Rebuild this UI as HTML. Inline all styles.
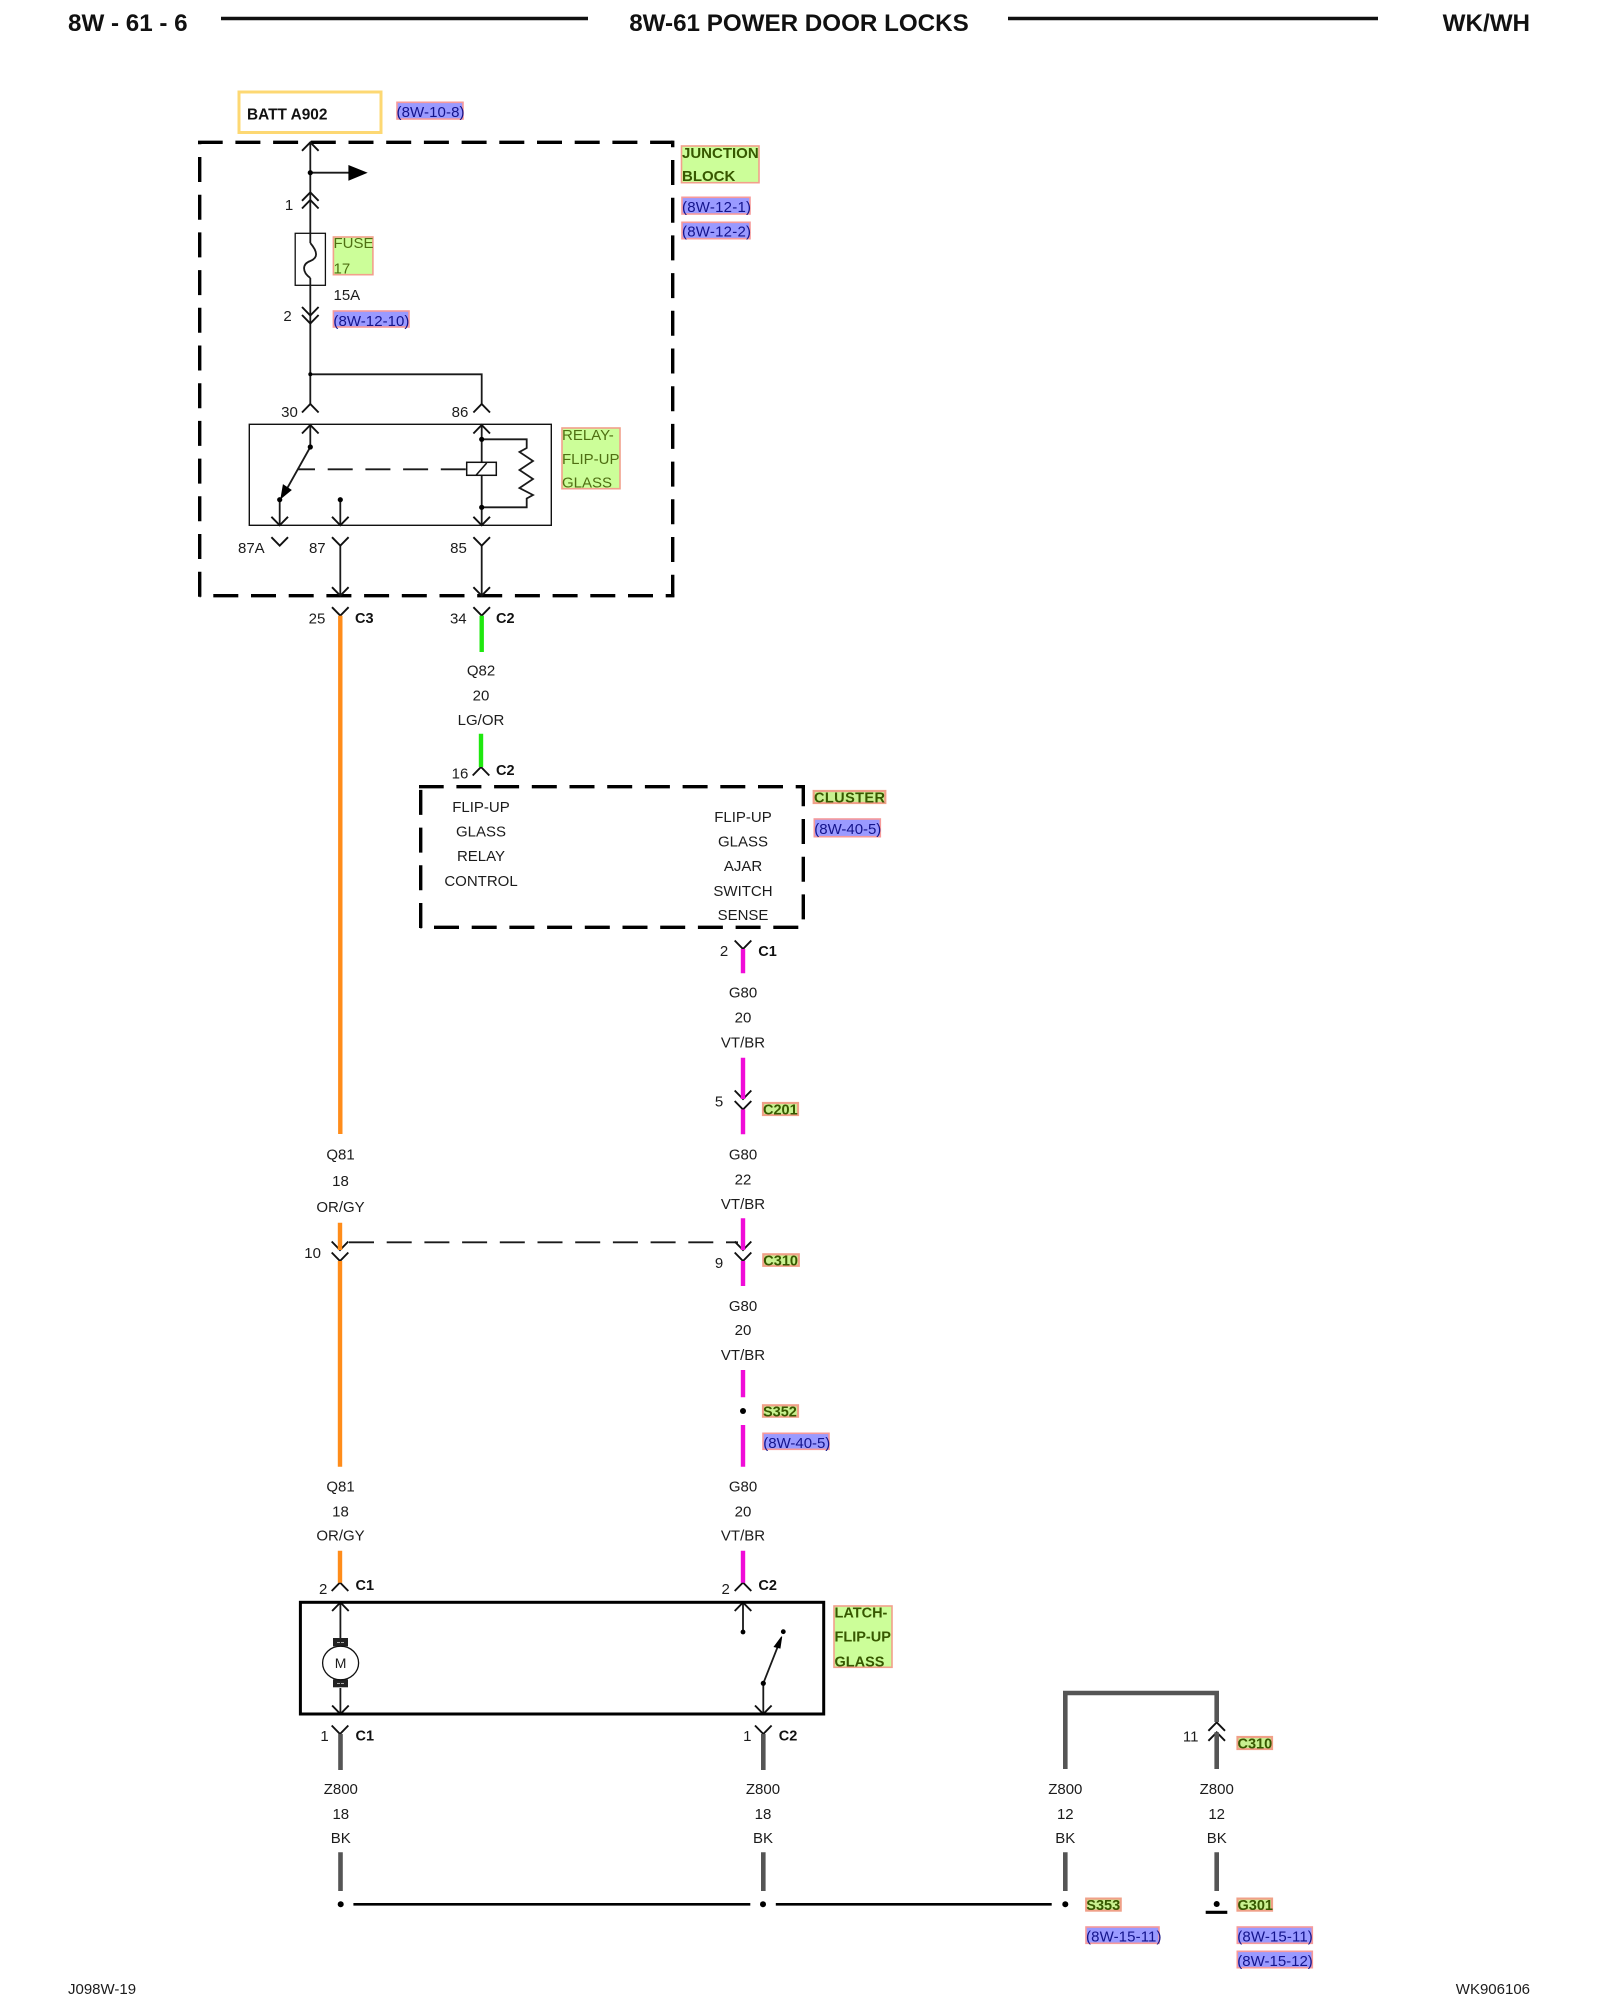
<!DOCTYPE html>
<html><head><meta charset="utf-8"><style>
html,body{margin:0;padding:0;background:#fff;width:1600px;height:2000px;overflow:hidden}
svg{display:block}
text{font-family:"Liberation Sans",sans-serif;font-size:15px;fill:#1c1c1c}
.b{font-weight:bold;font-size:14.5px;fill:#111}
.c{text-anchor:middle}
.h{font-weight:bold;font-size:24.2px;fill:#111}
.g{fill:#ccfe99;stroke:#f2a08c;stroke-width:1.6}
.s{fill:#c8f090;stroke:#f0a088;stroke-width:2.2}
.p{fill:#9a9aff;stroke:#f79a9a;stroke-width:1.6}
.gt{fill:#4f6f12}
.gb{fill:#375800;font-weight:bold;font-size:14.5px}
.pt{fill:#14148c}
</style></head><body>
<svg width="1600" height="2000" viewBox="0 0 1600 2000" xmlns="http://www.w3.org/2000/svg">
<rect width="1600" height="2000" fill="#fff"/>

<!-- header -->
<text class="h" x="68" y="31">8W - 61 - 6</text>
<text class="h c" x="799" y="31">8W-61 POWER DOOR LOCKS</text>
<text class="h" x="1530" y="31" text-anchor="end">WK/WH</text>
<path d="M221 18.5H588M1008 18.5H1378" stroke="#111" stroke-width="3.5" fill="none"/>
<text x="68" y="1994">J098W-19</text>
<text x="1530" y="1994" text-anchor="end">WK906106</text>

<!-- BATT -->
<rect x="239" y="92" width="142" height="40.5" fill="#fff" stroke="#fdd873" stroke-width="3"/>
<text class="b" x="247" y="119.5" style="font-size:15.4px">BATT A902</text>

<!-- dashed boxes -->
<g fill="none" stroke="#000" stroke-width="3.4" stroke-dasharray="25 12.7">
<path d="M199.7 596.7V142.3"/>
<path d="M198 142.3H672.7" stroke-dashoffset="0.3"/>
<path d="M672.7 140.6V596.7" stroke-dashoffset="18.3"/>
<path d="M199.7 595.7H674.4" stroke-dashoffset="24.1"/>
<path d="M420.7 928V786.7"/>
<path d="M419 786.7H803.3" stroke-dashoffset="0.3"/>
<path d="M803.3 785V927.3" stroke-dashoffset="3.7"/>
<path d="M420.7 927.3H803.3" stroke-dashoffset="24.4"/>
</g>

<!-- relay and fuse boxes -->
<rect x="249.3" y="424.3" width="302" height="101" fill="none" stroke="#111" stroke-width="1.4"/>
<rect x="295.2" y="233.3" width="30.2" height="52" fill="none" stroke="#111" stroke-width="1.3"/>

<!-- thin black wiring -->
<g fill="none" stroke="#1a1a1a" stroke-width="1.8">
<path d="M310.3 142.3V233M310.3 172.7H350"/>
<path d="M310.3 243V233.3M310.3 278V285.3M310.3 285.3V404M310.3 374.3H481.7V404"/>
<path d="M310.3 243C318 252 318 258 310.3 261C302 264 302 272 310.3 278"/>
<path d="M310.3 425V447M310.3 447L284 494"/>
<path d="M279.7 499.7V525.3M340.3 499.7V525.3"/>
<path d="M481.7 425V525.3M481.7 439.3H526.7V448L519.5 452L533 461L519.5 470L533 479L519.5 488L533 495L526.7 498.5V507.3H481.7"/>
<path d="M340.3 545.7V595.7M481.7 545.7V595.7"/>
<path d="M298.3 469.3H466.7" stroke-dasharray="25 12.7" stroke-dashoffset="8.3"/>
<!-- dashed mechanical link C310 -->
<path d="M349 1242.3H738" stroke-dasharray="25 12.7"/>
<!-- latch internals -->
<path d="M340.4 1602.3V1639M340.4 1688V1714"/>
<path d="M743 1602.3V1632M763.3 1683.3V1714M763.3 1683.3L778 1646"/>
</g>
<rect x="466.7" y="462.3" width="29.6" height="13" fill="#fff" stroke="#111" stroke-width="1.5"/>
<path d="M476 475.3L486.7 463" stroke="#111" stroke-width="1.5"/>

<!-- chevrons -->
<g fill="none" stroke="#111" stroke-width="1.9">
<path d="M302 150.8L310.3 142.3L318.6 150.8M302 200.8L310.3 192.3L318.6 200.8M302 208.5L310.3 200L318.6 208.5"/>
<path d="M302 307L310.3 315.5L318.6 307M302 315L310.3 323.5L318.6 315"/>
<path d="M302 412.5L310.3 404L318.6 412.5M473.4 412.5L481.7 404L490 412.5M302 433.5L310.3 425L318.6 433.5M473.4 433.5L481.7 425L490 433.5"/>
<path d="M271.4 516.8L279.7 525.3L288 516.8M332 516.8L340.3 525.3L348.6 516.8M473.4 516.8L481.7 525.3L490 516.8"/>
<path d="M271.4 537.2L279.7 545.7L288 537.2M332 537.2L340.3 545.7L348.6 537.2M473.4 537.2L481.7 545.7L490 537.2"/>
<path d="M332 587.2L340.3 595.7L348.6 587.2M473.4 587.2L481.7 595.7L490 587.2"/>
<path d="M332 607.2L340.3 615.7L348.6 607.2M473.4 607.2L481.7 615.7L490 607.2"/>
<path d="M472.7 775.5L481 767L489.3 775.5"/>
<path d="M734.7 940.5L743 949L751.3 940.5"/>
<path d="M734.7 1090.5L743 1099L751.3 1090.5M734.7 1101L743 1109.5L751.3 1101"/>
<path d="M331.7 1241.5L340 1250L348.3 1241.5M331.7 1252.5L340 1261L348.3 1252.5"/>
<path d="M734.7 1241.5L743 1250L751.3 1241.5M734.7 1252.5L743 1261L751.3 1252.5"/>
<path d="M331.7 1591L340 1582.5L348.3 1591M734.7 1591L743 1582.5L751.3 1591"/>
<path d="M332.1 1611L340.4 1602.5L348.7 1611M734.7 1611L743 1602.5L751.3 1611"/>
<path d="M332.1 1705.5L340.4 1714L348.7 1705.5M755 1705.5L763.3 1714L771.6 1705.5"/>
<path d="M331.7 1725.5L340 1734L348.3 1725.5M755 1725.5L763.3 1734L771.6 1725.5"/>
<path d="M1208.4 1730.8L1216.7 1722.3L1225 1730.8M1208.4 1740.8L1216.7 1732.3L1225 1740.8"/>
</g>

<!-- arrowheads -->
<path d="M348.4 165L367.7 172.7L348.4 180.7Z" fill="#000"/>
<path d="M281 498.3L283.3 485L291 490Z" fill="#000" stroke="#000" stroke-width="1"/>
<path d="M781.7 1636.7L774.3 1646.7L780 1648Z" fill="#000" stroke="#000" stroke-width="1"/>

<!-- dots -->
<g fill="#000">
<circle cx="310.3" cy="172.7" r="2.6"/>
<circle cx="310.3" cy="374.3" r="2"/>
<circle cx="310.3" cy="447" r="2.6"/>
<circle cx="279.7" cy="499.7" r="2.6"/>
<circle cx="340.3" cy="499.7" r="2.6"/>
<circle cx="481.7" cy="439.3" r="2.6"/>
<circle cx="481.7" cy="507.3" r="2.6"/>
<circle cx="743" cy="1411" r="3"/>
<circle cx="743" cy="1632" r="2.4"/>
<circle cx="783.3" cy="1631.7" r="2.4"/>
<circle cx="763.3" cy="1683.3" r="2.6"/>
<circle cx="340.7" cy="1904.3" r="3"/>
<circle cx="763" cy="1904.3" r="3"/>
<circle cx="1065.3" cy="1904.3" r="3"/>
<circle cx="1216.7" cy="1904" r="3"/>
</g>

<!-- coloured wires -->
<g fill="none" stroke-width="4.4">
<path d="M340.3 615.7V1134M340 1222.7V1250M340 1261V1466.7M340 1550.7V1582.7" stroke="#ff8c1a"/>
<path d="M481.7 615.7V652M481 733.7V767" stroke="#1fe80f"/>
<path d="M743 949V973.3M743 1057.7V1099M743 1109.5V1134.3M743 1218.3V1250M743 1261V1286M743 1370V1397.3M743 1425V1466.7M743 1550.7V1582.7" stroke="#f00cd8"/>
</g>
<g fill="none" stroke="#555" stroke-width="4.6">
<path d="M340.5 1734V1770M763.3 1734V1770M340.5 1852.3V1891M763.3 1852.3V1891M1065.3 1852.3V1891M1216.7 1852.3V1891"/>
<path d="M1065.3 1769V1693H1216.7V1722M1216.7 1732.3V1769"/>
</g>

<!-- bottom ground line -->
<path d="M353.4 1904.3H750.3M775.8 1904.3H1051.7" stroke="#000" stroke-width="2.6" fill="none"/>
<path d="M1205.7 1912.3H1227.3" stroke="#000" stroke-width="3.2"/>

<!-- latch box -->
<rect x="300.4" y="1602.3" width="523.3" height="111.7" fill="none" stroke="#000" stroke-width="3"/>
<!-- motor -->
<rect x="333" y="1638" width="15" height="8.3" fill="#222"/>
<rect x="333" y="1679.3" width="15" height="8" fill="#222"/>
<path d="M337 1642.5H344M337 1683.5H344" stroke="#aaa" stroke-width="1" stroke-dasharray="3 1"/>
<ellipse cx="340.6" cy="1663" rx="18" ry="16.8" fill="#fff" stroke="#111" stroke-width="1.3"/>
<text class="c" x="340.6" y="1668" style="font-size:14px">M</text>

<!-- pin numbers -->
<text class="c" x="289" y="210">1</text>
<text class="c" x="287.5" y="321">2</text>
<text x="333.5" y="300">15A</text>
<text class="c" x="289.5" y="417">30</text>
<text class="c" x="460" y="417">86</text>
<text x="238" y="553">87A</text>
<text class="c" x="317.3" y="553">87</text>
<text class="c" x="458.5" y="553">85</text>
<text class="c" x="317" y="623.3">25</text>
<text class="c" x="458.3" y="623.3">34</text>
<text class="b" x="355" y="623">C3</text>
<text class="b" x="496" y="623">C2</text>
<text class="c" x="460" y="778.3">16</text>
<text class="b" x="496" y="775">C2</text>
<text class="c" x="724" y="956">2</text>
<text class="b" x="758.3" y="956">C1</text>
<text class="c" x="719" y="1106.7">5</text>
<text class="c" x="312.6" y="1258">10</text>
<text class="c" x="719" y="1268">9</text>
<text class="c" x="323.2" y="1594">2</text>
<text class="b" x="355.5" y="1590">C1</text>
<text class="c" x="725.7" y="1594">2</text>
<text class="b" x="758.4" y="1590">C2</text>
<text class="c" x="324.5" y="1741">1</text>
<text class="b" x="355.5" y="1740.7">C1</text>
<text class="c" x="747.3" y="1741">1</text>
<text class="b" x="778.8" y="1740.7">C2</text>
<text class="c" x="1190.7" y="1741.3">11</text>

<!-- wire labels -->
<text class="c" x="481" y="675.5">Q82</text>
<text class="c" x="481" y="700.5">20</text>
<text class="c" x="481" y="725">LG/OR</text>

<text class="c" x="481" y="812">FLIP-UP</text>
<text class="c" x="481" y="836.7">GLASS</text>
<text class="c" x="481" y="861">RELAY</text>
<text class="c" x="481" y="886">CONTROL</text>
<text class="c" x="743" y="822">FLIP-UP</text>
<text class="c" x="743" y="846.7">GLASS</text>
<text class="c" x="743" y="871">AJAR</text>
<text class="c" x="743" y="896">SWITCH</text>
<text class="c" x="743" y="920">SENSE</text>

<text class="c" x="743" y="997.5">G80</text>
<text class="c" x="743" y="1022.5">20</text>
<text class="c" x="743" y="1047.5">VT/BR</text>
<text class="c" x="743" y="1159.5">G80</text>
<text class="c" x="743" y="1184.5">22</text>
<text class="c" x="743" y="1209">VT/BR</text>
<text class="c" x="340.5" y="1159.5">Q81</text>
<text class="c" x="340.5" y="1186">18</text>
<text class="c" x="340.5" y="1212">OR/GY</text>
<text class="c" x="743" y="1311">G80</text>
<text class="c" x="743" y="1335">20</text>
<text class="c" x="743" y="1360">VT/BR</text>
<text class="c" x="743" y="1491.7">G80</text>
<text class="c" x="743" y="1516.7">20</text>
<text class="c" x="743" y="1540.5">VT/BR</text>
<text class="c" x="340.5" y="1491.7">Q81</text>
<text class="c" x="340.5" y="1516.7">18</text>
<text class="c" x="340.5" y="1540.5">OR/GY</text>
<text class="c" x="340.8" y="1794">Z800</text>
<text class="c" x="340.8" y="1819">18</text>
<text class="c" x="340.8" y="1843">BK</text>
<text class="c" x="763" y="1794">Z800</text>
<text class="c" x="763" y="1819">18</text>
<text class="c" x="763" y="1843">BK</text>
<text class="c" x="1065.3" y="1794">Z800</text>
<text class="c" x="1065.3" y="1819">12</text>
<text class="c" x="1065.3" y="1843">BK</text>
<text class="c" x="1216.7" y="1794">Z800</text>
<text class="c" x="1216.7" y="1819">12</text>
<text class="c" x="1216.7" y="1843">BK</text>

<!-- green tags -->
<rect class="g" x="681.5" y="146" width="77.5" height="36.7"/>
<text class="gb" x="682" y="157.8" style="font-size:15px">JUNCTION</text>
<text class="gb" x="682" y="181.2" style="font-size:15px">BLOCK</text>
<rect class="g" x="333.4" y="237" width="39.5" height="37.7"/>
<text class="gt" x="333.5" y="248">FUSE</text>
<text class="gt" x="333.5" y="273.7">17</text>
<rect class="g" x="562" y="428" width="58" height="60.7"/>
<text class="gt" x="562" y="440">RELAY-</text>
<text class="gt" x="562" y="464">FLIP-UP</text>
<text class="gt" x="562" y="487.7">GLASS</text>
<rect class="s" x="813.7" y="791" width="71.6" height="12"/>
<text class="gb" x="814" y="802.5" textLength="71">CLUSTER</text>
<rect class="s" x="763" y="1103" width="35" height="12"/>
<text class="gb" x="763" y="1114.3">C201</text>
<rect class="s" x="763.3" y="1254.3" width="35.5" height="11.5"/>
<text class="gb" x="763.3" y="1265.5">C310</text>
<rect class="s" x="763" y="1405.3" width="35" height="11.4"/>
<text class="gb" x="763" y="1416.3">S352</text>
<rect class="g" x="834" y="1606" width="58" height="61.3"/>
<text class="gb" x="834.5" y="1617.7">LATCH-</text>
<text class="gb" x="834.5" y="1641.7">FLIP-UP</text>
<text class="gb" x="834.5" y="1666.7">GLASS</text>
<rect class="s" x="1237.5" y="1737" width="34.5" height="12"/>
<text class="gb" x="1237.5" y="1748.3">C310</text>
<rect class="s" x="1086.2" y="1898.6" width="34.5" height="12"/>
<text class="gb" x="1086.3" y="1909.8">S353</text>
<rect class="s" x="1237.5" y="1898.6" width="34.5" height="12"/>
<text class="gb" x="1237.5" y="1909.8">G301</text>

<!-- blue tags -->
<rect class="p" x="397" y="102.3" width="66" height="16.7"/>
<text class="pt" x="396.5" y="117" textLength="68" lengthAdjust="spacing">(8W-10-8)</text>
<rect class="p" x="682" y="197.3" width="68" height="16.7"/>
<text class="pt" x="682" y="212" textLength="69" lengthAdjust="spacing">(8W-12-1)</text>
<rect class="p" x="682" y="222.3" width="68" height="16.4"/>
<text class="pt" x="682" y="236.7" textLength="69" lengthAdjust="spacing">(8W-12-2)</text>
<rect class="p" x="333.4" y="311" width="75.6" height="16"/>
<text class="pt" x="333.4" y="326" textLength="76" lengthAdjust="spacing">(8W-12-10)</text>
<rect class="p" x="814.3" y="819" width="66" height="17.7"/>
<text class="pt" x="814.3" y="834" textLength="67" lengthAdjust="spacing">(8W-40-5)</text>
<rect class="p" x="763" y="1433.3" width="66" height="16"/>
<text class="pt" x="763.3" y="1448" textLength="67" lengthAdjust="spacing">(8W-40-5)</text>
<rect class="p" x="1086" y="1927" width="73" height="16.3"/>
<text class="pt" x="1086" y="1941.5" textLength="75.5" lengthAdjust="spacing">(8W-15-11)</text>
<rect class="p" x="1237.3" y="1927" width="75" height="16.3"/>
<text class="pt" x="1237.3" y="1941.5" textLength="75.5" lengthAdjust="spacing">(8W-15-11)</text>
<rect class="p" x="1237.3" y="1951.3" width="75" height="16.4"/>
<text class="pt" x="1237.3" y="1966" textLength="75.5" lengthAdjust="spacing">(8W-15-12)</text>
</svg>
</body></html>
